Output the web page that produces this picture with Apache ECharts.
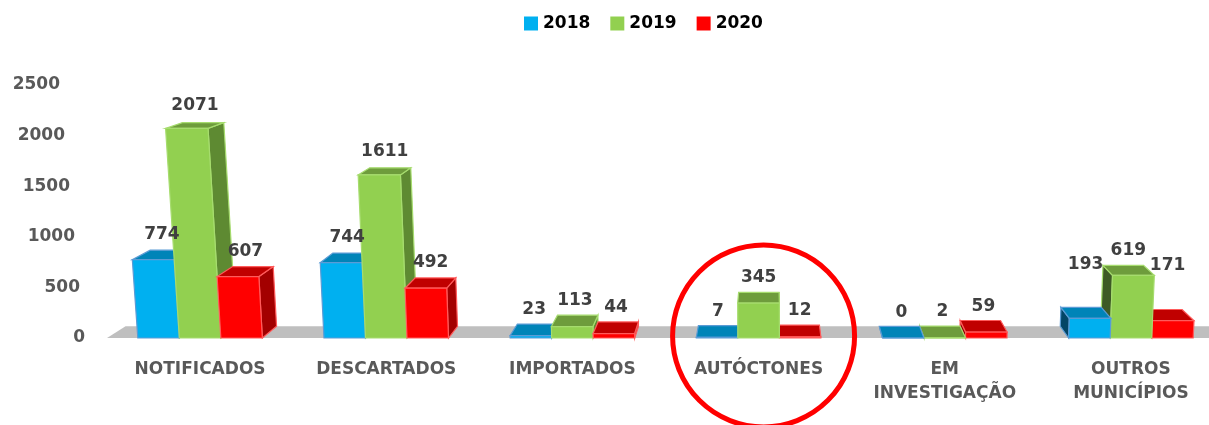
<!DOCTYPE html>
<html>
<head>
<meta charset="utf-8">
<script src="https://cdn.jsdelivr.net/npm/echarts@6/dist/echarts.min.js"></script>
<style>
  html, body { margin: 0; padding: 0; background: #fff; overflow: hidden; }
  #chart { width: 1240px; height: 425px; }
</style>
</head>
<body>
<div id="chart"></div>
<script>
// ---- data ----
var categories = ['NOTIFICADOS', 'DESCARTADOS', 'IMPORTADOS', 'AUTÓCTONES', 'EM\nINVESTIGAÇÃO', 'OUTROS\nMUNICÍPIOS'];
var years = ['2018', '2019', '2020'];
var values2018 = [774, 744, 23, 7, 0, 193];
var values2019 = [2071, 1611, 113, 345, 2, 619];
var values2020 = [607, 492, 44, 12, 59, 171];
var yTicks = [0, 500, 1000, 1500, 2000, 2500];
var highlightCategory = 'AUTÓCTONES';

// ---- 3d look ----
var FONT = 'bold 17px "DejaVu Sans"';
var VP = [770, -80];     // vanishing point for depth
var DEPTH = 0.028;
var LEAN_D = 9000;       // vertical lines converge far below
var palette = [
  { front: '#00B0F0', top: '#0084B8', right: '#0077A6', left: '#034566', edge: '#5B9BD5' },
  { front: '#92D050', top: '#6E9C3C', right: '#5E8A32', left: '#3E5A25', edge: '#A6DC6E' },
  { front: '#FF0000', top: '#C00000', right: '#A30000', left: '#8A0000', edge: '#FF5B5B' }
];
// a couple of labels sit higher in the original (category-series: extra px)
var labelLift = { '5-0': 28, '5-2': 30 };

function lean(x, y, baseY) {
  return [VP[0] + (x - VP[0]) * (1 + (baseY - y) / LEAN_D), y];
}
function back(p) {
  return [p[0] + (VP[0] - p[0]) * DEPTH, p[1] + (VP[1] - p[1]) * DEPTH];
}

function barItem(si) {
  return function (params, api) {
    var ci = api.value(0), v = api.value(1);
    var base = api.coord([ci, 0]);
    var top = api.coord([ci, v]);
    var band = api.size([1, 0])[0];
    var bw = band * 0.223;
    var xl = base[0] + (si - 1) * bw - bw / 2;
    var xr = xl + bw;
    var by = base[1], ty = top[1];
    var fbl = lean(xl, by, by), fbr = lean(xr, by, by);
    var ftl = lean(xl, ty, by), ftr = lean(xr, ty, by);
    var btl = back(ftl), btr = back(ftr), bbl = back(fbl), bbr = back(fbr);
    var c = palette[si];
    var mid = (xl + xr) / 2;
    var rightSide = mid < VP[0];
    var side = rightSide ? [ftr, fbr, bbr, btr] : [ftl, fbl, bbl, btl];
    var z = 100 - Math.abs(mid - VP[0]) / 10;
    var lx = (ftl[0] + ftr[0] + btl[0] + btr[0]) / 4;
    var ly = (ftl[1] + ftr[1] + btl[1] + btr[1]) / 4 - 20 - (labelLift[ci + '-' + si] || 0);
    return {
      type: 'group',
      children: [
        { type: 'polygon', z2: z, shape: { points: side },
          style: { fill: rightSide ? c.right : c.left, stroke: c.edge, lineWidth: 1.2 } },
        { type: 'polygon', z2: z + 0.1, shape: { points: [ftl, ftr, btr, btl] },
          style: { fill: c.top, stroke: c.edge, lineWidth: 1.2 } },
        { type: 'polygon', z2: z + 0.2, shape: { points: [fbl, fbr, ftr, ftl] },
          style: { fill: c.front, stroke: c.edge, lineWidth: 1.2 } },
        { type: 'text', z2: 1000,
          style: { text: String(v), x: lx, y: ly, fill: '#404040', font: FONT,
                   align: 'center', verticalAlign: 'middle' } }
      ]
    };
  };
}

function floorItem(params, api) {
  var band = api.size([1, 0])[0];
  var a = api.coord([0, 0]);
  var b = api.coord([categories.length - 1, 0]);
  var fl = [a[0] - band / 2, a[1]];
  var fr = [b[0] + band / 2, b[1]];
  return {
    type: 'polygon',
    shape: { points: [fl, fr, back(fr), back(fl)] },
    style: { fill: '#BFBFBF' }
  };
}

var yRich = {};
yTicks.forEach(function (t) { yRich['r' + t] = { padding: [0, t / 100, 0, 0] }; });

var seriesData = [values2018, values2019, values2020];
var series = [{
  name: 'floor', type: 'custom', z: 1, silent: true,
  renderItem: floorItem, data: [[0, 0]], encode: { x: 0, y: 1 }
}];
years.forEach(function (y, si) {
  series.push({
    name: y, type: 'custom', z: 2,
    itemStyle: { color: palette[si].front },
    renderItem: barItem(si),
    data: seriesData[si].map(function (v, i) { return [i, v]; }),
    encode: { x: 0, y: 1 }
  });
});

var chart = echarts.init(document.getElementById('chart'));
chart.setOption({
  animation: false,
  backgroundColor: '#fff',
  legend: {
    data: years, top: 10, left: 519,
    icon: 'rect', itemWidth: 14, itemHeight: 14, itemGap: 20,
    textStyle: { fontFamily: 'DejaVu Sans', fontWeight: 'bold', fontSize: 17, color: '#000' }
  },
  grid: { left: 107, top: 85, width: 1117, height: 253 },
  xAxis: {
    type: 'category', data: categories,
    axisLine: { show: false }, axisTick: { show: false },
    axisLabel: { margin: 20, interval: 0, fontFamily: 'DejaVu Sans', fontWeight: 'bold',
                 fontSize: 17, color: '#595959', lineHeight: 24 }
  },
  yAxis: {
    type: 'value', min: 0, max: 2500, interval: 500,
    splitLine: { show: false }, axisLine: { show: false }, axisTick: { show: false },
    axisLabel: {
      margin: 22, fontFamily: 'DejaVu Sans', fontWeight: 'bold', fontSize: 17, color: '#595959',
      formatter: function (v) { return '{r' + v + '|' + v + '}'; },
      rich: yRich
    }
  },
  series: series
});

// highlight ring around one category
var hp = chart.convertToPixel({ xAxisIndex: 0, yAxisIndex: 0 }, [categories.indexOf(highlightCategory), 0]);
chart.setOption({
  graphic: [{
    type: 'circle', z: 100,
    shape: { cx: hp[0] + 5, cy: hp[1] - 2, r: 91 },
    style: { fill: 'none', stroke: '#FF0000', lineWidth: 5 }
  }]
});
</script>
</body>
</html>
